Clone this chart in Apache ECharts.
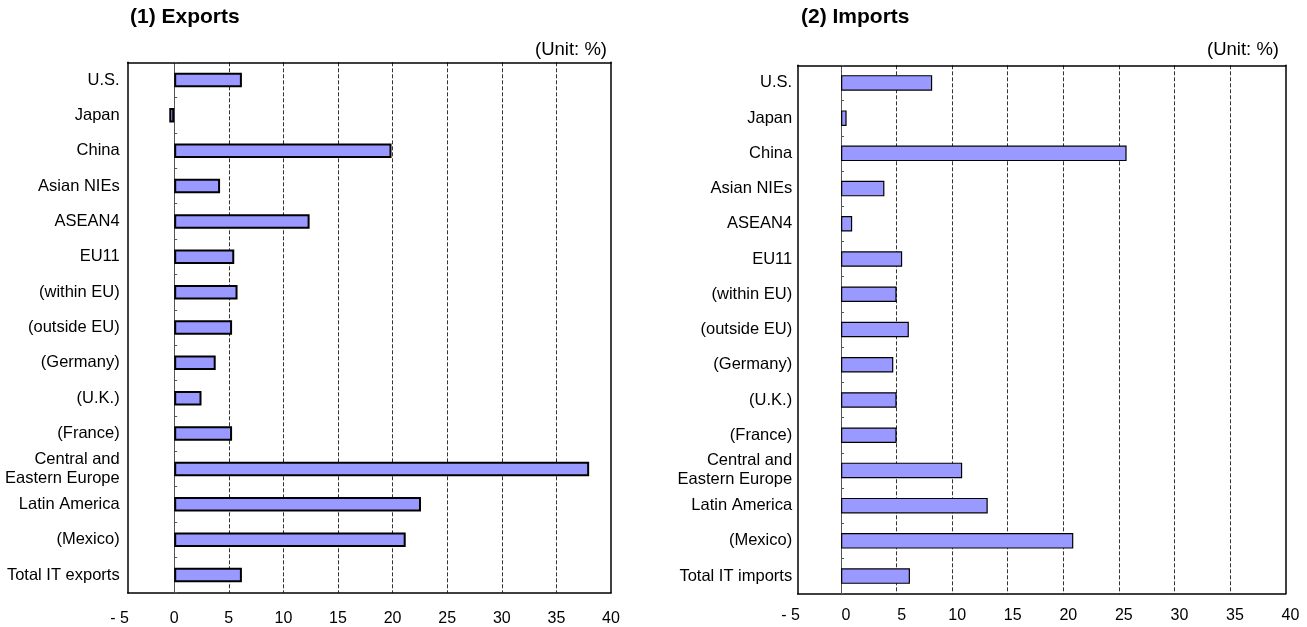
<!DOCTYPE html>
<html><head><meta charset="utf-8">
<script src="https://cdn.jsdelivr.net/npm/echarts@6/dist/echarts.min.js"></script>
<style>html,body{margin:0;padding:0;background:#fff}#c{width:1307px;height:627px}</style>
</head><body><div id="c"></div>
<script>
const exportCategories = ['U.S.','Japan','China','Asian NIEs','ASEAN4','EU11','(within EU)','(outside EU)','(Germany)','(U.K.)','(France)','Central and\nEastern Europe','Latin America','(Mexico)','Total IT exports'];
const importCategories = ['U.S.','Japan','China','Asian NIEs','ASEAN4','EU11','(within EU)','(outside EU)','(Germany)','(U.K.)','(France)','Central and\nEastern Europe','Latin America','(Mexico)','Total IT imports'];
const exportValues = [6.2, -0.45, 19.9, 4.2, 12.4, 5.5, 5.8, 5.3, 3.8, 2.5, 5.3, 38.0, 22.6, 21.2, 6.2];
const importValues = [8.2, 0.5, 25.7, 3.9, 1.0, 5.5, 5.0, 6.1, 4.7, 5.0, 5.0, 10.9, 13.2, 20.9, 6.2];
const tickMin = -5, tickMax = 40, tickStep = 5;
const titles = ['(1) Exports', '(2) Imports'];
const unitText = '(Unit: %)';

const FONT = "'Liberation Sans', Arial, sans-serif";
const chart = echarts.init(document.getElementById('c'));

// layout (pixels)
const L = {labLeft:119.6, frameLeft:127.7, right:611, top:62.3, height:530.4, barW:14.5, border:2, labMargin:18, catMargin:8};
const R = {labLeft:785.5, frameLeft:797.7, right:1285.5, top:65.3, height:528.4, barW:15.5, border:1.2, labMargin:14, catMargin:5.5};

function frameMin(p){
  const unit = (p.right - p.labLeft) / (tickMax - tickMin);
  return tickMax - (p.right - p.frameLeft) / unit;
}

const grids = [], xAxes = [], yAxes = [], series = [];
function build(p, cats, vals, rightShift){
  const gA = grids.length;
  grids.push({left:p.labLeft, top:p.top, width:p.right-p.labLeft, height:p.height});
  const gB = grids.length;
  grids.push({left:p.frameLeft, top:p.top, width:p.right-p.frameLeft, height:p.height});
  const fm = frameMin(p);
  xAxes.push({gridIndex:gA, type:'value', min:tickMin, max:tickMax, interval:tickStep, position:'bottom',
    axisLine:{show:false}, axisTick:{show:false},
    axisLabel:{fontFamily:FONT, fontSize:16, color:'#000', margin:p.labMargin,
      padding: rightShift ? [0,0,0,rightShift] : 0,
      formatter: v => v < 0 ? '- ' + (-v) : String(v)},
    splitLine:{show:true, showMinLine:false, showMaxLine:false, lineStyle:{color:'#333', width:1, type:[4,2]}}});
  yAxes.push({gridIndex:gA, type:'category', data:cats, show:false});
  const xB = xAxes.length;
  xAxes.push({gridIndex:gB, type:'value', min:fm, max:tickMax, position:'bottom',
    axisLine:{show:true, onZero:false, lineStyle:{color:'#000', width:1.5}}, axisTick:{show:false}, axisLabel:{show:false}, splitLine:{show:false}});
  xAxes.push({gridIndex:gB, type:'value', min:fm, max:tickMax, position:'top',
    axisLine:{show:true, onZero:false, lineStyle:{color:'#000', width:1.5}}, axisTick:{show:false}, axisLabel:{show:false}, splitLine:{show:false}});
  const yB = yAxes.length;
  yAxes.push({gridIndex:gB, type:'category', data:cats, inverse:true, position:'left',
    axisLine:{show:true, onZero:false, lineStyle:{color:'#000', width:1.5}}, axisTick:{show:false},
    axisLabel:{fontFamily:FONT, fontSize:16.5, color:'#000', margin:p.catMargin, lineHeight:19, align:'right'}, splitLine:{show:false}});
  yAxes.push({gridIndex:gB, type:'category', data:cats, inverse:true, position:'left',
    axisLine:{show:true, onZero:true, onZeroAxisIndex:xB, lineStyle:{color:'#555', width:1}},
    axisTick:{show:true, inside:true, length:3, lineStyle:{color:'#555'}}, axisLabel:{show:false}, splitLine:{show:false}});
  yAxes.push({gridIndex:gB, type:'category', data:cats, inverse:true, position:'right',
    axisLine:{show:true, onZero:false, lineStyle:{color:'#000', width:1.5}}, axisTick:{show:false}, axisLabel:{show:false}, splitLine:{show:false}});
  series.push({type:'bar', xAxisIndex:xB, yAxisIndex:yB, data:vals, barWidth:p.barW,
    itemStyle:{color:'#9999FF', borderColor:'#000', borderWidth:p.border}, emphasis:{disabled:true}, animation:false});
}
build(L, exportCategories, exportValues, 0);
build(R, importCategories, importValues, 10);

chart.setOption({
  animation:false,
  textStyle:{fontFamily:FONT},
  title:[
    {text:titles[0], left:130, top:7, padding:0, textStyle:{fontFamily:FONT, fontSize:21, fontWeight:'bold', color:'#000'}},
    {text:titles[1], left:801, top:7, padding:0, textStyle:{fontFamily:FONT, fontSize:21, fontWeight:'bold', color:'#000'}},
    {text:unitText, right:1307-607, top:40, padding:0, textStyle:{fontFamily:FONT, fontSize:18.5, fontWeight:'normal', color:'#000'}},
    {text:unitText, right:1307-1279, top:40, padding:0, textStyle:{fontFamily:FONT, fontSize:18.5, fontWeight:'normal', color:'#000'}}
  ],
  grid:grids, xAxis:xAxes, yAxis:yAxes, series:series
});
</script></body></html>
